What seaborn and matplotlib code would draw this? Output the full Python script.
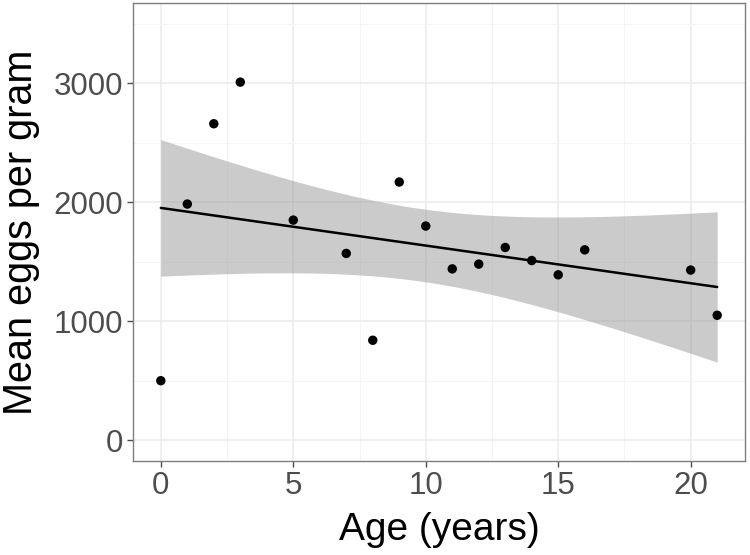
import numpy as np
import pandas as pd
import seaborn as sns
from matplotlib import pyplot as plt

# valori
eta = [0, 1, 2, 3, 5, 7, 8, 9, 10, 11, 12, 13, 14, 15, 16, 20, 21]
uova = [500, 1985, 2660, 3010, 1850, 1570, 840, 2170, 1800, 1440, 1480,
        1620, 1510, 1390, 1600, 1430, 1050]

df = pd.DataFrame({"eta": eta, "uova": uova})

sns.set_style("white")
plt.rcParams['font.family'] = ['Liberation Sans', 'DejaVu Sans']

fig = plt.figure(figsize=(7.5, 5.55), dpi=100)
ax = fig.add_axes([133/750, 1 - 461/555, 612/750, 458/555])

# regressione lineare con intervallo di confidenza analitico (come geom_smooth)
x = df["eta"].to_numpy(float)
y = df["uova"].to_numpy(float)
n = len(x)
b1, b0 = np.polyfit(x, y, 1)
res = y - (b0 + b1 * x)
s = np.sqrt(np.sum(res**2) / (n - 2))
xg = np.linspace(x.min(), x.max(), 80)
yg = b0 + b1 * xg
se = s * np.sqrt(1/n + (xg - x.mean())**2 / np.sum((x - x.mean())**2))
t = 2.131  # t(0.975, 15)
fit = pd.DataFrame({"eta": xg, "uova": yg})

ax.fill_between(xg, yg - t*se, yg + t*se, color="#999999", alpha=0.5, lw=0, zorder=2)
sns.scatterplot(data=df, x="eta", y="uova", color="black", s=46, edgecolor="none", ax=ax, zorder=3)
sns.lineplot(data=fit, x="eta", y="uova", color="black", lw=1.8, ax=ax, zorder=4)

ax.set_xlim(-1.05, 22.05)
ax.set_ylim(-175, 3675)
ax.set_xticks([0, 5, 10, 15, 20])
ax.set_yticks([0, 1000, 2000, 3000])
ax.set_xticks([2.5, 7.5, 12.5, 17.5], minor=True)
ax.set_yticks([500, 1500, 2500, 3500], minor=True)
ax.grid(True, which="major", color="#ebebeb", lw=1.1, zorder=0)
ax.grid(True, which="minor", color="#f3f3f3", lw=0.6, zorder=0)
ax.set_axisbelow(True)
for sp in ax.spines.values():
    sp.set_color("#7f7f7f")
    sp.set_linewidth(1.0)
ax.tick_params(which="major", length=4, width=1, color="#4d4d4d", labelcolor="#4d4d4d",
               labelsize=22.5, pad=3, bottom=True, left=True)
ax.tick_params(which="minor", length=0)
ax.set_xlabel("Age (years)", fontsize=28, color="black", labelpad=8)
ax.set_ylabel("Mean eggs per gram", fontsize=28.5, color="black", labelpad=10)

fig.savefig("out.png", dpi=100)
